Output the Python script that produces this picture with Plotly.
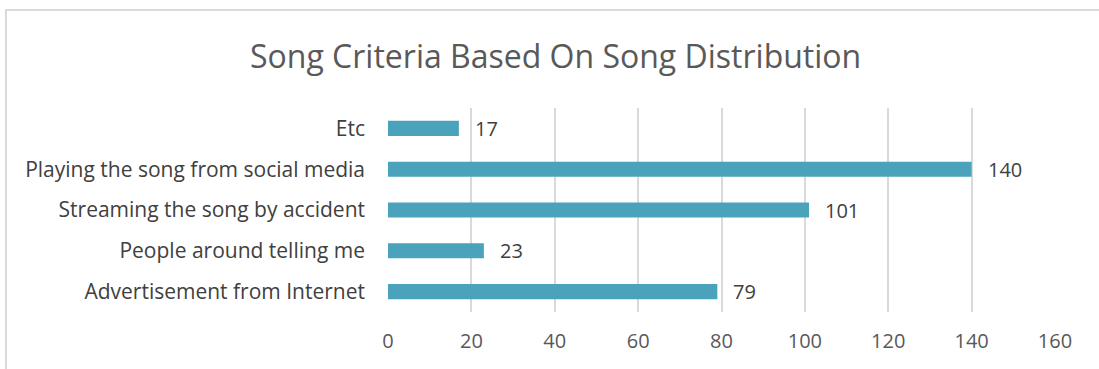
import plotly.graph_objects as go

categories = ["Advertisement from Internet", "People around telling me",
              "Streaming the song by accident", "Playing the song from social media", "Etc"]
values = [79, 23, 101, 140, 17]
x_ticks = [0, 20, 40, 60, 80, 100, 120, 140, 160]
title_text = "Song Criteria Based On Song Distribution"

FONT = "Open Sans"
BAR = "#4AA3BB"

fig = go.Figure(go.Bar(
    y=categories, x=values, orientation="h",
    marker=dict(color=BAR, line=dict(width=0)),
    width=0.37, hoverinfo="skip",
))

for c, v in zip(categories, values):
    fig.add_annotation(x=v, y=c, text=str(v), showarrow=False, xanchor="left",
                       xshift=14, font=dict(family=FONT, size=20, color="#404040"))

fig.add_annotation(xref="paper", yref="paper", x=(555 - 388) / 667, y=(312 - 55) / 204,
                   text=title_text, showarrow=False, xanchor="center", yanchor="middle",
                   font=dict(family=FONT, size=32, color="#595959"))

# chart frame (top and left edges)
fig.add_shape(type="line", xref="paper", yref="paper", x0=(5 - 388) / 667, x1=(1099 - 388) / 667,
              y0=(312 - 10) / 204, y1=(312 - 10) / 204, line=dict(color="#d9d9d9", width=2))
fig.add_shape(type="line", xref="paper", yref="paper", x0=(6 - 388) / 667, x1=(6 - 388) / 667,
              y0=(312 - 10) / 204, y1=(312 - 369) / 204, line=dict(color="#d9d9d9", width=2))

fig.update_layout(
    width=1099, height=369,
    margin=dict(l=388, r=44, t=108, b=57),
    paper_bgcolor="white", plot_bgcolor="white",
    showlegend=False,
    xaxis=dict(range=[0, 160], tickvals=x_ticks, showgrid=True, gridcolor="#d9d9d9", gridwidth=1.5,
               zeroline=False, showline=False, ticks="",
               tickfont=dict(family=FONT, size=20, color="#595959"), ticklabelstandoff=15),
    yaxis=dict(categoryorder="array", categoryarray=categories, showgrid=False, zeroline=False,
               showline=False, ticks="", range=[-0.5, 4.5],
               tickfont=dict(family=FONT, size=21, color="#404040"), ticklabelstandoff=22),
)

fig.write_html("out.html")
